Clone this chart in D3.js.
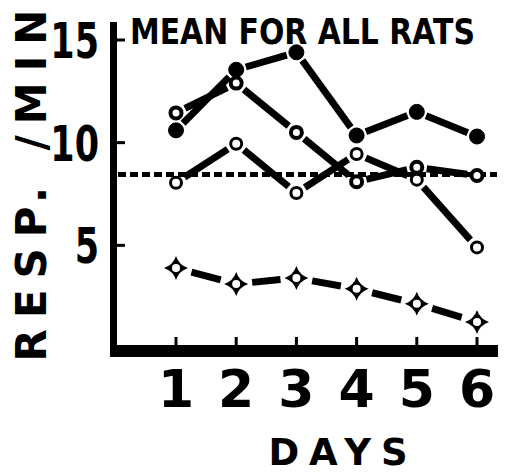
<!DOCTYPE html>
<html>
<head>
<meta charset="utf-8">
<script src="https://cdn.jsdelivr.net/npm/d3@7"></script>
<style>
  body { margin: 0; background: #fff; }
  text { font-family: "DejaVu Sans", sans-serif; font-weight: bold; fill: #000; }
</style>
</head>
<body>
<div class="chart"></div>
<script>
var days = [1, 2, 3, 4, 5, 6];
var ratA = [10.6, 13.55, 14.4, 10.35, 11.5, 10.3];   // filled dots
var ratB = [11.45, 12.9, 10.5, 8.1, 8.8, 8.4];      // heavy rings
var ratC = [8.05, 9.95, 7.55, 9.45, 8.2, 4.9];      // open circles
var ratD = [3.9, 3.12, 3.41, 2.88, 2.15, 1.27];     // open stars
var meanAll = 8.45;
var yTicks = [5, 10, 15];

var svg = d3.select("body div.chart").append("svg").attr("width", 507).attr("height", 474);

var x = d3.scaleLinear().domain([1, 6]).range([176, 477]);
var y = d3.scaleLinear().domain([0, 15]).range([348, 40]);

// axes
svg.append("rect").attr("x", 110).attr("y", 22).attr("width", 7).attr("height", 335);
svg.append("rect").attr("x", 110).attr("y", 345).attr("width", 388).attr("height", 12);

svg.selectAll("line.ytick").data(yTicks).enter().append("line")
    .attr("x1", 116).attr("x2", 125)
    .attr("y1", function(d) { return y(d); }).attr("y2", function(d) { return y(d); })
    .attr("stroke", "#000").attr("stroke-width", 3);

svg.selectAll("line.xtick").data(days).enter().append("line")
    .attr("x1", function(d) { return x(d); }).attr("x2", function(d) { return x(d); })
    .attr("y1", 337).attr("y2", 346)
    .attr("stroke", "#000").attr("stroke-width", 3);

svg.selectAll("text.ylab").data(yTicks).enter().append("text")
    .attr("text-anchor", "end")
    .attr("font-size", 50)
    .attr("transform", function(d) { return "translate(99," + (y(d) + 18) + ") scale(0.7,1)"; })
    .text(function(d) { return d; });

svg.selectAll("text.xlab").data(days).enter().append("text")
    .attr("text-anchor", "middle")
    .attr("font-size", 52)
    .attr("x", function(d) { return x(d); })
    .attr("y", 407)
    .text(function(d) { return d; });

svg.append("text").attr("x", 343).attr("y", 465).attr("font-size", 37)
    .attr("text-anchor", "middle").attr("letter-spacing", 10).text("DAYS");

// title squeezed to the reference width
var title = svg.append("text").attr("font-size", 36).text("MEAN FOR ALL RATS");
var tw = title.node().getComputedTextLength();
title.attr("transform", "translate(130,44) scale(" + (345 / tw) + ",1)");

svg.append("text").attr("text-anchor", "middle").attr("font-size", 42)
    .attr("transform", "translate(46,180) rotate(-90)")
    .attr("letter-spacing", 11).text("RESP. /MIN");

// mean line
svg.append("line")
    .attr("x1", 118).attr("x2", 497)
    .attr("y1", y(meanAll)).attr("y2", y(meanAll))
    .attr("stroke", "#000").attr("stroke-width", 5)
    .attr("stroke-dasharray", "8 4");

// series as trimmed segments between markers
function segments(vals, trim, width) {
  var pts = vals.map(function(v, i) { return [x(days[i]), y(v)]; });
  var segs = d3.pairs(pts);
  svg.append("g").selectAll("line").data(segs).enter().append("line")
      .each(function(s) {
        var dx = s[1][0] - s[0][0], dy = s[1][1] - s[0][1];
        var len = Math.sqrt(dx * dx + dy * dy);
        var ux = dx / len, uy = dy / len;
        d3.select(this)
          .attr("x1", s[0][0] + ux * trim).attr("y1", s[0][1] + uy * trim)
          .attr("x2", s[1][0] - ux * trim).attr("y2", s[1][1] - uy * trim);
      })
      .attr("stroke", "#000").attr("stroke-width", width);
}

segments(ratA, 10, 7);
segments(ratB, 10, 7);
segments(ratC, 10, 7);
segments(ratD, 16, 7);

function circles(vals, r, sw, fill) {
  svg.append("g").selectAll("circle").data(vals).enter().append("circle")
      .attr("cx", function(d, i) { return x(days[i]); })
      .attr("cy", function(d) { return y(d); })
      .attr("r", r).attr("fill", fill)
      .attr("stroke", "#000").attr("stroke-width", sw);
}

circles(ratA, 7.5, 1, "#000");
circles(ratB, 5.5, 4, "#fff");
circles(ratC, 5.5, 3, "#fff");

var star = "M0,-12 Q3,-3 12,0 Q3,3 0,12 Q-3,3 -12,0 Q-3,-3 0,-12 Z";
var gD = svg.append("g").selectAll("g").data(ratD).enter().append("g")
    .attr("transform", function(d, i) { return "translate(" + x(days[i]) + "," + y(d) + ")"; });
gD.append("path").attr("d", star).attr("fill", "#000");
gD.append("circle").attr("r", 4).attr("fill", "#fff");
</script>
</body>
</html>
